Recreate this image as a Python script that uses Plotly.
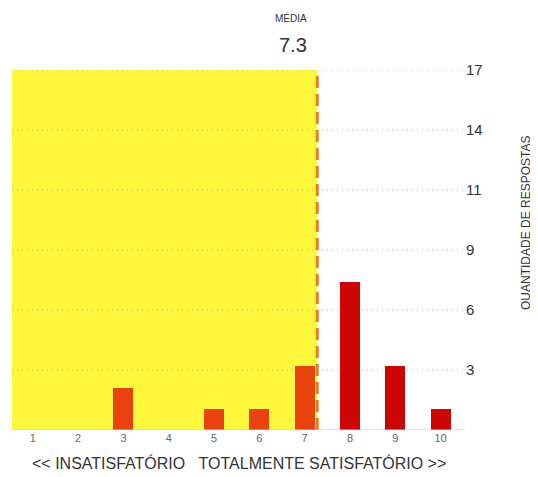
import plotly.graph_objects as go

scores = [1, 2, 3, 4, 5, 6, 7, 8, 9, 10]
counts = [0, 0, 2, 0, 1, 1, 3, 7, 3, 1]
y_max = 17
y_ticks = [y_max * k / 6 for k in range(1, 7)]
y_tick_text = ["3", "6", "9", "11", "14", "17"]

mean = sum(s * c for s, c in zip(scores, counts)) / sum(counts)
bar_colors = ["#e8420f" if s <= 7 else "#cc0505" for s in scores]
x_range = [0.54, 10.54]

fig = go.Figure()
fig.add_trace(go.Bar(x=scores, y=counts, marker=dict(color=bar_colors, line=dict(width=0)),
                     width=0.44, showlegend=False))

# shaded area up to the mean
fig.add_shape(type="rect", xref="x", yref="y", x0=x_range[0], x1=mean, y0=0, y1=y_max,
              fillcolor="#fdf83c", line=dict(width=0), layer="below")
# dotted grid drawn over the shaded area, under the bars
for t in y_ticks:
    fig.add_shape(type="line", xref="x", yref="y", x0=x_range[0], x1=x_range[1], y0=t, y1=t,
                  line=dict(color="#b0b0b0", width=1, dash="1px,4px"), layer="below")
# mean line
fig.add_shape(type="line", xref="x", yref="y", x0=mean, x1=mean, y0=0, y1=y_max,
              line=dict(color="#e27c1c", width=3, dash="12px,6px"))
# baseline
fig.add_shape(type="line", xref="x", yref="y", x0=x_range[0], x1=x_range[1], y0=0, y1=0,
              line=dict(color="#f0b4b4", width=1))

fig.add_annotation(x=mean, y=1, xref="x", yref="paper", yanchor="bottom", xanchor="right",
                   xshift=-8, yshift=44, text="MÉDIA", showarrow=False,
                   font=dict(size=10, color="#333"))
fig.add_annotation(x=mean, y=1, xref="x", yref="paper", yanchor="bottom", xanchor="right",
                   xshift=-8, yshift=12, text="7.3", showarrow=False,
                   font=dict(size=20, color="#333"))
fig.add_annotation(x=0.5, y=0, xref="paper", yref="paper", yanchor="top", yshift=-22,
                   text="&lt;&lt; INSATISFATÓRIO&nbsp;&nbsp;&nbsp;TOTALMENTE SATISFATÓRIO &gt;&gt;",
                   showarrow=False, font=dict(size=16, color="#333"))
fig.add_annotation(x=1, y=0.5, xref="paper", yref="paper", xanchor="left", xshift=52, yshift=27,
                   text="QUANTIDADE DE RESPOSTAS", textangle=-90, showarrow=False,
                   font=dict(size=12, color="#333"))

# the page body adds an 8px margin, so the figure is sized to fit the window
fig.update_layout(
    width=530, height=469,
    margin=dict(l=4, r=73, t=62, b=47),
    plot_bgcolor="white", paper_bgcolor="white",
    font=dict(family="Liberation Sans, Arial, sans-serif"),
    bargap=0,
    xaxis=dict(range=x_range, tickvals=scores, ticktext=[str(s) for s in scores],
               showgrid=False, zeroline=False, showline=False, ticks="",
               tickfont=dict(size=11, color="#666")),
    yaxis=dict(range=[0, y_max], side="right", tickvals=y_ticks, ticktext=y_tick_text,
               showgrid=False, zeroline=False, showline=False, ticks="",
               tickfont=dict(size=15, color="#333")),
)

fig.write_html("out.html")
